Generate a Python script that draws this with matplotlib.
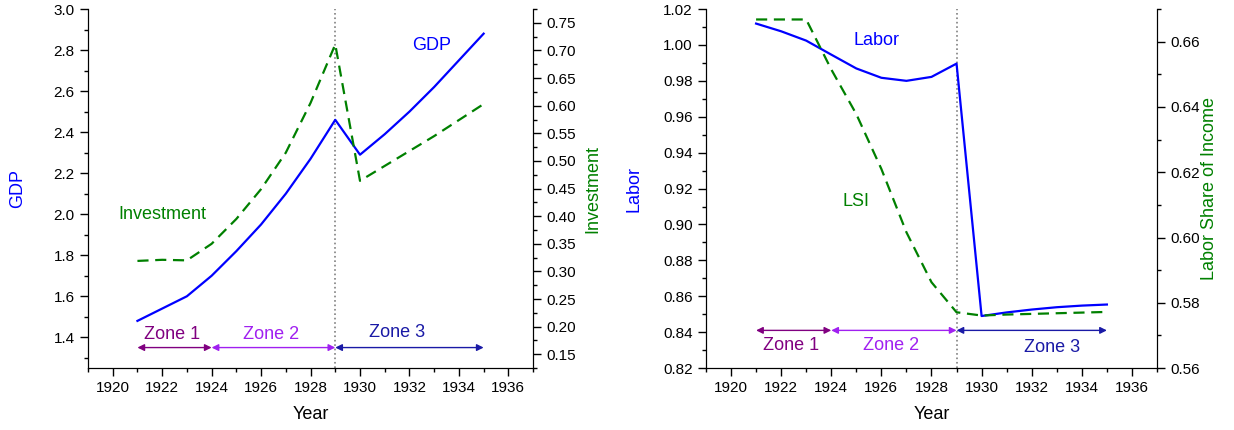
import matplotlib.pyplot as plt
from matplotlib.ticker import MultipleLocator

plt.rcParams['font.family'] = ['Liberation Sans', 'DejaVu Sans']

# Data
years = list(range(1921, 1936))
gdp = [1.48, 1.54, 1.60, 1.70, 1.82, 1.95, 2.10, 2.27, 2.46, 2.29, 2.39, 2.50, 2.62, 2.75, 2.88]
investment = [0.319, 0.321, 0.320, 0.35, 0.395, 0.449, 0.515, 0.605, 0.711, 0.464, 0.491, 0.518, 0.545, 0.574, 0.603]
labor = [1.0119, 1.0076, 1.0024, 0.9946, 0.9869, 0.9817, 0.9800, 0.9822, 0.9896,
         0.8490, 0.8510, 0.8526, 0.8539, 0.8548, 0.8554]
lsi = [0.6668, 0.6668, 0.6668, 0.6515, 0.6378, 0.6210, 0.6016, 0.5863, 0.5771,
       0.5761, 0.5764, 0.5766, 0.5768, 0.5770, 0.5772]

zones = ['Zone 1', 'Zone 2', 'Zone 3']
zone_edges = [(1921, 1924), (1924, 1929), (1929, 1935)]
zone_colors = ['#800080', '#a020f0', '#1a1aa6']

BLUE = '#0000ff'
GREEN = '#008000'

fig = plt.figure(figsize=(12.34, 4.3), dpi=100)
ax1 = fig.add_axes([0.0713, 0.144, 0.3607, 0.835])
ax3 = fig.add_axes([0.5721, 0.144, 0.3655, 0.835])


def style(ax, twin):
    ax.spines['top'].set_visible(False)
    twin.spines['top'].set_visible(False)
    ax.set_xlim(1919, 1937)
    ax.xaxis.set_major_locator(MultipleLocator(2))
    ax.xaxis.set_minor_locator(MultipleLocator(1))
    for a in (ax, twin):
        a.tick_params(which='major', length=6, width=1, direction='out', labelsize=11)
        a.tick_params(which='minor', length=3, width=1, direction='out')
    ax.set_xlabel('Year', fontsize=13, labelpad=8)
    ax.axvline(1929, color='gray', ls=':', lw=1.2, zorder=1)


# ---- left panel: GDP & Investment
ax2 = ax1.twinx()
ax1.plot(years, gdp, color=BLUE, lw=1.6)
ax2.plot(years, investment, color=GREEN, lw=1.6, ls=(0, (5, 3)))
ax1.set_ylim(1.25, 3.0)
ax2.set_ylim(0.125, 0.775)
ax1.yaxis.set_major_locator(MultipleLocator(0.2))
ax1.yaxis.set_minor_locator(MultipleLocator(0.1))
ax2.yaxis.set_major_locator(MultipleLocator(0.05))
ax2.yaxis.set_minor_locator(MultipleLocator(0.025))
ax1.set_ylabel('GDP', color=BLUE, fontsize=13, labelpad=20)
ax2.set_ylabel('Investment', color=GREEN, fontsize=13, labelpad=6)
style(ax1, ax2)
ax1.text(1932.9, 2.82, 'GDP', color=BLUE, fontsize=13, ha='center', va='center')
ax1.text(1922.0, 2.0, 'Investment', color=GREEN, fontsize=13, ha='center', va='center')

for (x0, x1), name, c, ty in zip(zone_edges, zones, zone_colors, [1.415, 1.415, 1.425]):
    ax1.annotate('', xy=(x1, 1.35), xytext=(x0, 1.35),
                 arrowprops=dict(arrowstyle='<|-|>', color=c, lw=1, mutation_scale=10,
                                 shrinkA=0, shrinkB=0))
    ax1.text((x0 + x1) / 2 - (0.1 if name != 'Zone 3' else 0.5), ty, name, color=c,
             fontsize=13, ha='center', va='center')

# ---- right panel: Labor & LSI
ax4 = ax3.twinx()
ax3.plot(years, labor, color=BLUE, lw=1.6)
ax4.plot(years, lsi, color=GREEN, lw=1.6, ls=(0, (5, 3)))
ax3.set_ylim(0.82, 1.02)
ax4.set_ylim(0.56, 0.67)
ax3.yaxis.set_major_locator(MultipleLocator(0.02))
ax3.yaxis.set_minor_locator(MultipleLocator(0.01))
ax4.yaxis.set_major_locator(MultipleLocator(0.02))
ax4.yaxis.set_minor_locator(MultipleLocator(0.01))
ax3.set_ylabel('Labor', color=BLUE, fontsize=13, labelpad=15)
ax4.set_ylabel('Labor Share of Income', color=GREEN, fontsize=13, labelpad=1)
style(ax3, ax4)
ax3.text(1925.8, 1.0025, 'Labor', color=BLUE, fontsize=13, ha='center', va='center')
ax3.text(1925.0, 0.913, 'LSI', color=GREEN, fontsize=13, ha='center', va='center')

for (x0, x1), name, c, ty in zip(zone_edges, zones, zone_colors, [0.8325, 0.8325, 0.8315]):
    ax3.annotate('', xy=(x1, 0.841), xytext=(x0, 0.841),
                 arrowprops=dict(arrowstyle='<|-|>', color=c, lw=1, mutation_scale=10,
                                 shrinkA=0, shrinkB=0))
    ax3.text((x0 + x1) / 2 - (0.1 if name != 'Zone 3' else -0.8), ty, name, color=c,
             fontsize=13, ha='center', va='center')

fig.savefig('out.png', dpi=100)
